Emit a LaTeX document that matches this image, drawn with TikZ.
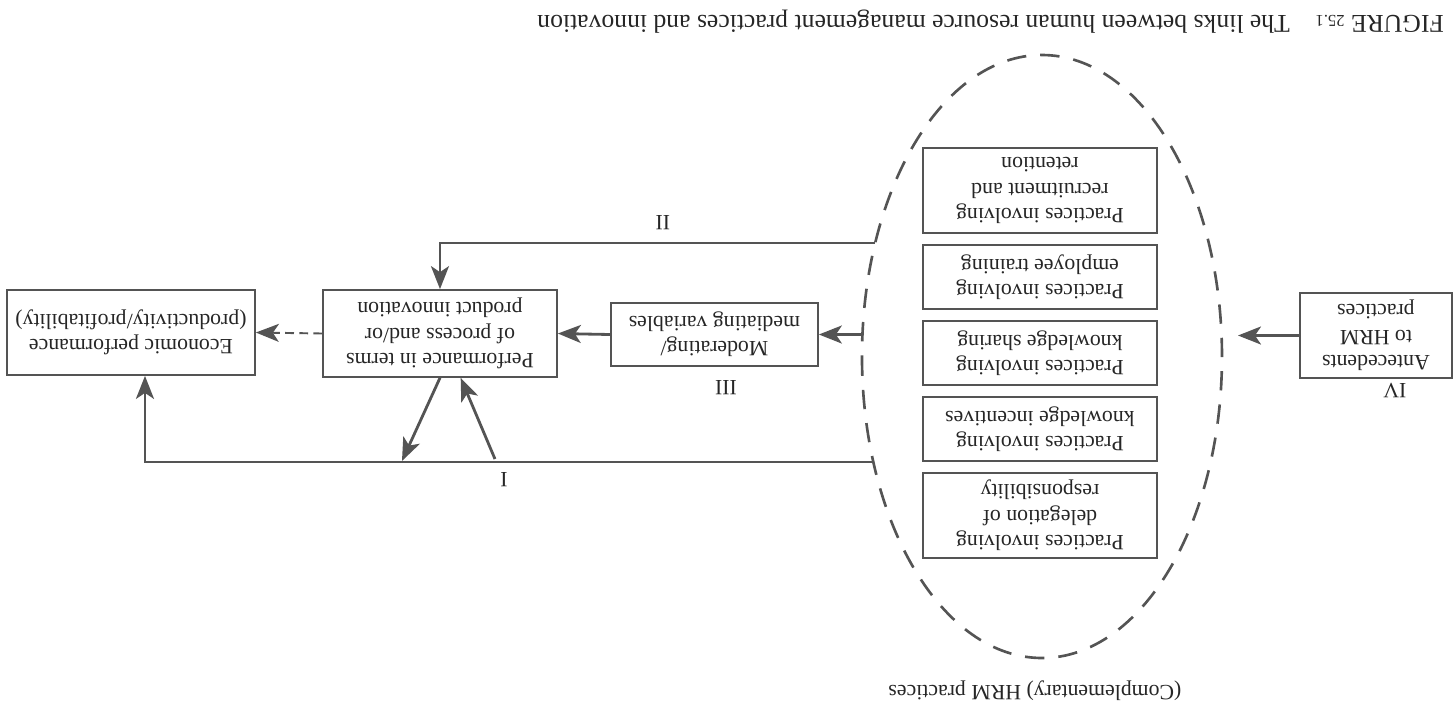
\documentclass[tikz,border=0pt]{standalone}
\usepackage{fontspec}
\setmainfont{Liberation Serif}
\usetikzlibrary{arrows.meta,shapes.geometric}
\definecolor{linegray}{gray}{0.33}
\definecolor{textgray}{gray}{0.15}
\tikzset{
  box/.style={draw=linegray, line width=1pt, align=center, inner sep=2pt,
    text=textgray, font=\fontsize{12.4}{14.4}\selectfont},
  lbl/.style={text=textgray, font=\fontsize{12.4}{14.4}\selectfont},
  link/.style={draw=linegray, line width=1.6pt,
    -{Stealth[length=4.6mm,width=3.6mm,inset=1.2mm]}},
  hrmring/.style={draw=linegray, ellipse, line width=1.5pt,
    dash pattern=on 11pt off 8pt, inner sep=0pt},
}
\begin{document}
\begin{tikzpicture}[rotate=180, transform shape]
    \useasboundingbox (0,0) rectangle (29.12,14.16);
    %% caption
    \node[lbl, anchor=base west, font=\fontsize{14.6}{16}\selectfont] (title) at (0.12,0.3)
        {FIGURE {\fontsize{9.5}{9.5}\selectfont 25.1}\quad The links between human resource management practices and innovation};
    %% antecedents
    \node[box, minimum width=3.04cm, minimum height=1.7cm] (ante) at (1.6,6.71) {Antecedents\\to HRM\\practices};
    \node[lbl] (lIV) at (1.22,7.8) {IV};
    %% HRM practices
    \node[hrmring, minimum width=7.2cm, minimum height=12.06cm] (hrm) at (8.28,7.13) {};
    \node[lbl] (hrmlbl) at (8.42,13.82) {(Complementary) HRM practices};
    \foreach \n/\y/\h/\txt in {rec/3.81/1.7cm/{Practices involving\\recruitment and\\retention},
                               train/5.54/1.28cm/{Practices involving\\employee training},
                               share/7.06/1.28cm/{Practices involving\\knowledge sharing},
                               incent/8.58/1.28cm/{Practices involving\\knowledge incentives},
                               deleg/10.31/1.7cm/{Practices involving\\delegation of\\responsibility}}
        \node[box, minimum width=4.68cm, minimum height=\h] (\n) at (8.32,\y) {\txt};
    %% moderating / performance / economic
    \node[box, minimum width=4.14cm, minimum height=1.26cm] (mod) at (14.83,6.69) {Moderating/\\mediating variables};
    \node[lbl] (lIII) at (14.6,7.76) {III};
    \node[box, minimum width=4.68cm, minimum height=1.74cm] (perf) at (20.32,6.67) {Performance in terms\\of process and/or\\product innovation};
    \node[box, minimum width=4.96cm, minimum height=1.7cm] (econ) at (26.5,6.65) {Economic performance\\(productivity/profitability)};
    %% IV
    \coordinate (eIV) at (4.36,6.71);
    \draw[link] (ante.east) -- (eIV);
    %% III
    \draw[link] (hrm.east |- mod.west) -- (mod.west);
    \draw[link] (mod.east) -- (perf.west);
    \draw[link, line width=1.1pt, dash pattern=on 5pt off 3pt] (perf.east) -- (econ.west);
    %% II
    \coordinate (eII) at (11.62,4.86);
    \draw[link] (eII) -| (perf.south);
    \node[lbl] (lII) at (15.86,4.46) {II};
    %% I
    \coordinate (eI) at (11.66,9.24);
    \coordinate (cI) at (26.22,9.24);
    \draw[link] (eI) -- (cI) -- (cI |- econ.north);
    \node[lbl] (lI) at (19.04,9.6) {I};
    \coordinate (fI) at (21.08,9.22);
    \coordinate (gI) at (19.22,9.18);
    \draw[link] (perf.north) -- (fI);
    \draw[link] (gI) -- (perf.115);
\end{tikzpicture}
\end{document}
